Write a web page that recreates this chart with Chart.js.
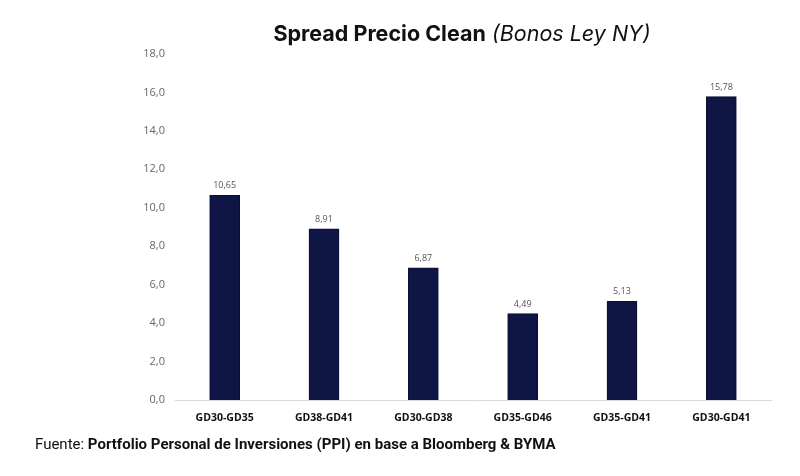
<!DOCTYPE html>
<html>
<head>
    <meta charset="utf-8" />
    <title>Spread Precio Clean</title>
    <script src="https://cdn.jsdelivr.net/npm/chart.js@4/dist/chart.umd.min.js"></script>
    <style>
        html, body { margin: 0; padding: 0; background: #fff; }
        #wrap { position: relative; width: 800px; height: 476px; }
        #title {
            position: absolute; top: 20px; left: 0; width: 924px; text-align: center;
            font-family: Inter, Roboto, sans-serif; font-size: 21.5px; color: #111;
        }
        #title b { font-weight: 700; }
        #title i { font-weight: 400; }
        #source {
            position: absolute; top: 435px; left: 35px;
            font-family: Roboto, sans-serif; font-size: 15px; color: #111;
        }
        #source b { font-weight: 700; }
        canvas { position: absolute; top: 0; left: 0; }
    </style>
</head>
<body>
<div id="wrap">
    <canvas id="myChart" width="800" height="476"></canvas>
    <div id="title"><b>Spread Precio Clean</b> <i>(Bonos Ley NY)</i></div>
    <div id="source">Fuente: <b>Portfolio Personal de Inversiones (PPI) en base a Bloomberg &amp; BYMA</b></div>
</div>
<script>
// chart data
var categories = ["GD30-GD35", "GD38-GD41", "GD30-GD38", "GD35-GD46", "GD35-GD41", "GD30-GD41"];
var spreads = [10.65, 8.91, 6.87, 4.49, 5.13, 15.78];
var yTicks = [0, 2, 4, 6, 8, 10, 12, 14, 16, 18];

function comma(v, d) {
    return v.toFixed(d).replace(".", ",");
}

// value labels above the bars
var valueLabels = {
    id: "valueLabels",
    afterDatasetsDraw: function(chart) {
        var ctx = chart.ctx;
        var meta = chart.getDatasetMeta(0);
        ctx.save();
        ctx.font = "9px 'Open Sans', sans-serif";
        ctx.fillStyle = "#555";
        ctx.textAlign = "center";
        ctx.textBaseline = "bottom";
        meta.data.forEach(function(bar, i) {
            ctx.fillText(comma(spreads[i], 2), bar.x, bar.y - 5);
        });
        ctx.restore();
    }
};

var ctx = document.getElementById("myChart").getContext("2d");
var chart = new Chart(ctx, {
    type: "bar",
    data: {
        labels: categories,
        datasets: [{
            data: spreads,
            backgroundColor: "#0f1545",
            borderColor: "#0b0f33",
            borderWidth: 1,
            barThickness: 30
        }]
    },
    options: {
        responsive: false,
        animation: false,
        layout: { padding: { left: 100, right: 29, top: 54, bottom: 52 } },
        plugins: {
            legend: { display: false },
            tooltip: { enabled: false }
        },
        scales: {
            x: {
                grid: { display: false },
                border: { display: true, color: "#d9d9d9", width: 1 },
                ticks: {
                    color: "#111",
                    font: { family: "'Open Sans', sans-serif", size: 10.5, weight: "bold" },
                    padding: 4
                },
                afterFit: function(scale) { scale.height = 24; }
            },
            y: {
                min: 0,
                max: 18,
                afterBuildTicks: function(scale) {
                    scale.ticks = yTicks.map(function(v) { return { value: v }; });
                },
                grid: { display: false },
                border: { display: false },
                ticks: {
                    color: "#666",
                    font: { family: "'Open Sans', sans-serif", size: 11 },
                    padding: 2,
                    callback: function(v) { return comma(v, 1); }
                },
                afterFit: function(scale) { scale.width = 75; }
            }
        }
    },
    plugins: [valueLabels]
});
</script>
</body>
</html>
